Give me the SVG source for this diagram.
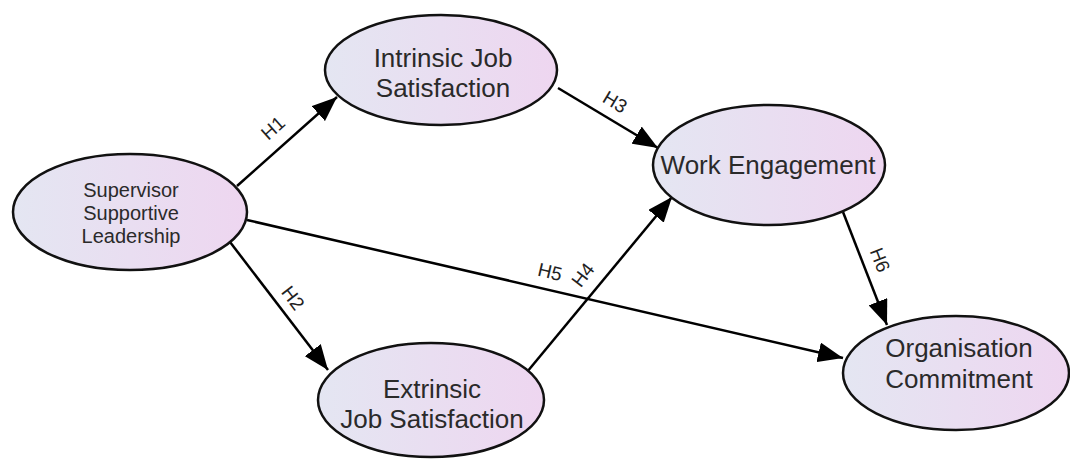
<svg xmlns="http://www.w3.org/2000/svg" width="1070" height="461" viewBox="0 0 1070 461">
  <defs>
    <linearGradient id="fill" x1="0" y1="0" x2="1" y2="0">
      <stop offset="0" stop-color="#e4e6f2"/>
      <stop offset="1" stop-color="#eed6f0"/>
    </linearGradient>
    <marker id="arr" markerUnits="userSpaceOnUse" markerWidth="26" markerHeight="20" refX="25" refY="10" orient="auto">
      <path d="M0,0 L25,10 L0,20 Z" fill="#000"/>
    </marker>
    <style>
      .node ellipse { fill: url(#fill); stroke: #111; stroke-width: 2.5; }
      .lbl { font-family: "Liberation Sans", Arial, sans-serif; font-size: 26px; fill: #2a2a2a; text-anchor: middle; }
      .small { font-size: 20px; }
      .edge { stroke: #000; stroke-width: 2.5; fill: none; marker-end: url(#arr); }
      .h { font-family: "Liberation Sans", Arial, sans-serif; font-size: 19px; fill: #222; text-anchor: middle; dominant-baseline: central; }
    </style>
  </defs>
  <rect width="1070" height="461" fill="#fff"/>

  <g id="connectors">
    <line class="edge" x1="237" y1="186" x2="337" y2="97"/>
    <line class="edge" x1="230" y1="242" x2="328" y2="370"/>
    <line class="edge" x1="558" y1="88" x2="658" y2="148"/>
    <line class="edge" x1="527" y1="372" x2="672" y2="197"/>
    <line class="edge" x1="247" y1="220" x2="843" y2="358"/>
    <line class="edge" x1="843" y1="212" x2="887" y2="325"/>
    <text class="h" transform="translate(273,128) rotate(-41.7)">H1</text>
    <text class="h" transform="translate(293,298) rotate(52.6)">H2</text>
    <text class="h" transform="translate(615,102) rotate(31)">H3</text>
    <text class="h" transform="translate(583,275) rotate(-52.5)">H4</text>
    <text class="h" transform="translate(550,272) rotate(13)">H5</text>
    <text class="h" transform="translate(880,260) rotate(68.7)">H6</text>
  </g>

  <g id="ssl" class="node">
    <ellipse cx="130" cy="212" rx="117" ry="58"/>
    <text class="lbl small" x="131" y="197">Supervisor</text>
    <text class="lbl small" x="131" y="220">Supportive</text>
    <text class="lbl small" x="131" y="243">Leadership</text>
  </g>
  <g id="ijs" class="node">
    <ellipse cx="441" cy="70" rx="116" ry="55"/>
    <text class="lbl" x="443" y="67">Intrinsic Job</text>
    <text class="lbl" x="443" y="97">Satisfaction</text>
  </g>
  <g id="we" class="node">
    <ellipse cx="769" cy="165" rx="116" ry="60"/>
    <text class="lbl" x="768" y="174">Work Engagement</text>
  </g>
  <g id="ejs" class="node">
    <ellipse cx="431" cy="400" rx="113" ry="57"/>
    <text class="lbl" x="432" y="398">Extrinsic</text>
    <text class="lbl" x="432" y="428">Job Satisfaction</text>
  </g>
  <g id="oc" class="node">
    <ellipse cx="956" cy="373" rx="113" ry="57"/>
    <text class="lbl" x="959" y="357">Organisation</text>
    <text class="lbl" x="959" y="388">Commitment</text>
  </g>
</svg>
